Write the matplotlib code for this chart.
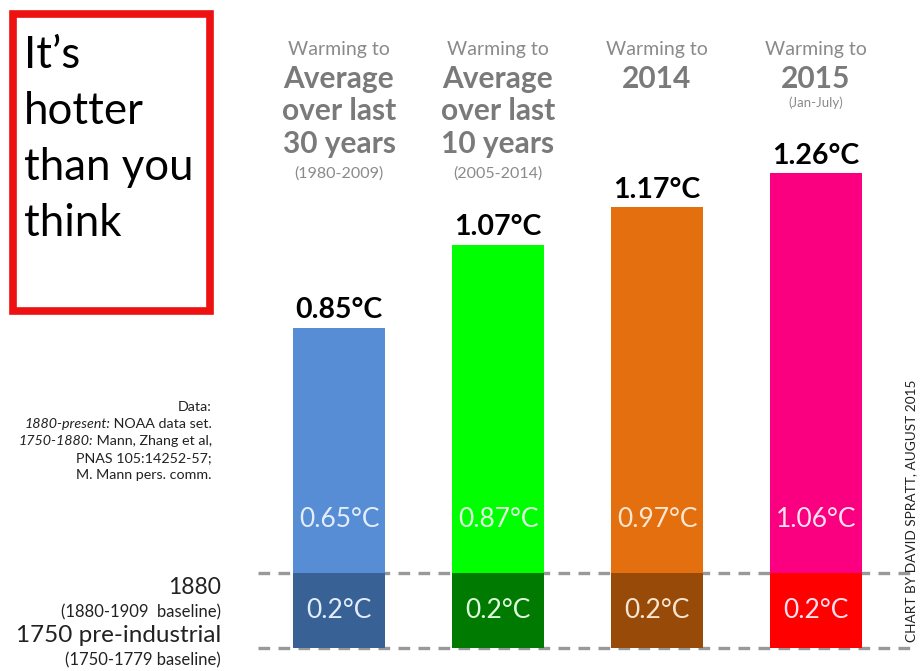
import matplotlib
matplotlib.use("Agg")
import matplotlib.pyplot as plt
from matplotlib.patches import Rectangle
from matplotlib.transforms import blended_transform_factory

plt.rcParams['font.family'] = ['Lato', 'DejaVu Sans']

# data
headers_small = ["Warming to", "Warming to", "Warming to", "Warming to"]
headers_big = [["Average", "over last", "30 years"],
               ["Average", "over last", "10 years"],
               ["2014"],
               ["2015"]]
header_notes = ["(1980-2009)", "(2005-2014)", "", "(Jan-July)"]
baseline_warming = 0.2
since_1880 = [0.65, 0.87, 0.97, 1.06]
totals = [0.85, 1.07, 1.17, 1.26]
top_colors = ["#568DD5", "#00FF00", "#E46F0E", "#FA0080"]
base_colors = ["#386196", "#007A00", "#984B09", "#FF0000"]
text_colors = ["#E4EEFA", "#E0FFE0", "#FBE6D2", "#FFE0EE"]
title_lines = ["It’s", "hotter", "than you", "think"]

W, H = 923, 671
fig = plt.figure(figsize=(W / 100, H / 100), dpi=100)
fig.patch.set_facecolor("white")

# axes cover whole figure; 0 degC at pixel row 648, ~377 px per degC
px_per_deg = 377.0
px_per_bar = 159.0
x0_px = 339.0
ax = fig.add_axes([0, 0, 1, 1])
ax.set_xlim(-x0_px / px_per_bar, (W - x0_px) / px_per_bar)
ax.set_ylim(-(H - 648) / px_per_deg, 648 / px_per_deg)
ax.axis("off")

def fy(py):
    return 1 - py / H

x = list(range(len(totals)))
bw = 92 / px_per_bar

ax.bar(x, [baseline_warming] * len(x), width=bw, color=base_colors, zorder=2)
ax.bar(x, since_1880, bottom=baseline_warming, width=bw, color=top_colors, zorder=2)

# dashed baselines
xl = (258 - x0_px) / px_per_bar
xr = (915 - x0_px) / px_per_bar
for yv in [0, baseline_warming]:
    ax.plot([xl, xr], [yv, yv], ls=(0, (3.5, 2.5)), color="#999999", lw=2.4, zorder=1)

for i in x:
    ax.annotate(f"{totals[i]:.2f}°C", (i, totals[i]), xytext=(0, 3), textcoords="offset points",
                ha="center", va="bottom", fontsize=20.5, fontweight="bold", color="black")
    ax.text(i, 0.34, f"{since_1880[i]:.2f}°C", ha="center", va="center",
            fontsize=19, color=text_colors[i], zorder=3)
    ax.text(i, baseline_warming / 2, f"{baseline_warming}°C", ha="center", va="center",
            fontsize=19, color=text_colors[i], zorder=3)

# column headers
tr = blended_transform_factory(ax.transData, fig.transFigure)
for i in x:
    ax.text(i, fy(50), headers_small[i], transform=tr, ha="center", va="center",
            fontsize=14, color="#8A8A8A")
    for j, line in enumerate(headers_big[i]):
        ax.text(i, fy(79 + j * 32.5), line, transform=tr, ha="center", va="center",
                fontsize=21.5, fontweight="bold", color="#7A7A7A")
    if header_notes[i]:
        ny = 174 if len(headers_big[i]) == 3 else 103
        ax.text(i, fy(ny), header_notes[i], transform=tr, ha="center", va="center",
                fontsize=11.5 if len(headers_big[i]) == 3 else 9.5, color="#8A8A8A")

# red box with title
fig.patches.append(Rectangle((13 / W, fy(311)), 197 / W, 297 / H, transform=fig.transFigure,
                             fill=False, edgecolor="#EE1111", lw=5.5))
for k, line in enumerate(title_lines):
    fig.text(24 / W, fy(68 + k * 56), line, ha="left", va="baseline",
             fontsize=31.5, color="black")

# data source, with italic lead-ins
renderer = fig.canvas.get_renderer()
src_lines = [("", "Data:"),
             ("1880-present:", " NOAA data set."),
             ("1750-1880:", " Mann, Zhang et al,"),
             ("", "PNAS 105:14252-57;"),
             ("", "M. Mann pers. comm.")]
for k, (ital, norm) in enumerate(src_lines):
    yy = fy(407 + k * 17)
    t = fig.text(212 / W, yy, norm, ha="right", va="center", fontsize=10.3, color="#222222")
    if ital:
        bb = t.get_window_extent(renderer)
        fig.text(bb.x0 / W, yy, ital, ha="right", va="center", fontsize=10.3,
                 style="italic", color="#222222")

# baseline labels
fig.text(221 / W, fy(587), "1880", ha="right", va="center", fontsize=16.5, color="#222222")
fig.text(221 / W, fy(612), "(1880-1909  baseline)", ha="right", va="center", fontsize=12, color="#222222")
fig.text(221 / W, fy(636), "1750 pre-industrial", ha="right", va="center", fontsize=17.5, color="#222222")
fig.text(221 / W, fy(660), "(1750-1779 baseline)", ha="right", va="center", fontsize=12, color="#222222")

fig.text(911 / W, fy(511), "CHART BY DAVID SPRATT, AUGUST 2015", rotation=90,
         ha="center", va="center", fontsize=9.8, color="#222222")

fig.savefig("out.png", dpi=100, facecolor="white")
